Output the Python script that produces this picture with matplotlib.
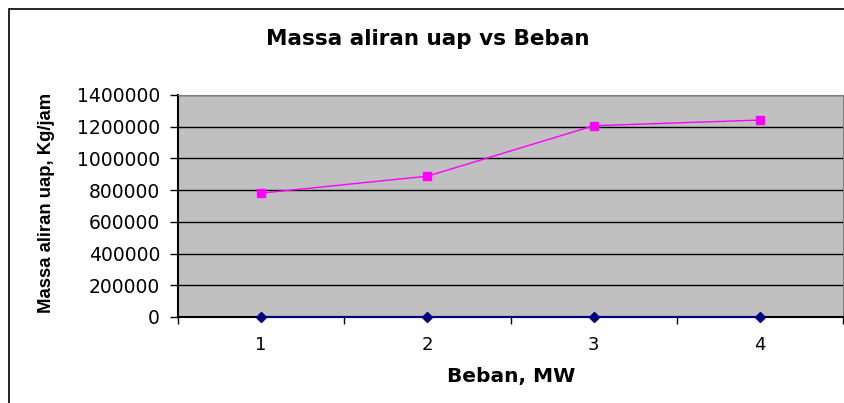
import matplotlib.pyplot as plt
from matplotlib.patches import Rectangle

plt.rcParams['font.family'] = ['DejaVu Sans']

# data
beban = [1, 2, 3, 4]
massa_uap = [781000, 888000, 1206000, 1242000]
seri_nol = [0, 0, 0, 0]
y_ticks = [0, 200000, 400000, 600000, 800000, 1000000, 1200000, 1400000]

fig = plt.figure(figsize=(8.45, 4.03), dpi=100)
ax = fig.add_axes([178 / 845, 1 - 317 / 403, (843 - 178) / 845, (317 - 95) / 403])
ax.set_facecolor('#c0c0c0')

# grid lines
for v in y_ticks[1:]:
    ax.axhline(v, color='black', lw=1.0, zorder=1)

ax.plot(beban, massa_uap, color='#ff00ff', lw=1.0, marker='s', ms=6,
        markerfacecolor='#ff00ff', markeredgecolor='#ff00ff', zorder=3, clip_on=False)
ax.plot(beban, seri_nol, color='#000080', lw=1.5, marker='D', ms=5,
        markerfacecolor='#000080', markeredgecolor='#000080', zorder=4, clip_on=False)

ax.set_xlim(0.5, 4.5)
ax.set_ylim(0, 1400000)
ax.set_yticks(y_ticks)
ax.set_yticklabels([str(v) for v in y_ticks], fontsize=13.5)

# category labels without ticks; tick marks between categories
ax.set_xticks([0.5, 1.5, 2.5, 3.5, 4.5])
ax.set_xticklabels([])
ax.set_xticks(beban, minor=True)
ax.set_xticklabels([str(b) for b in beban], minor=True, fontsize=13)
ax.tick_params(axis='x', which='minor', length=0, pad=14)
ax.tick_params(axis='x', which='major', direction='out', length=5, width=1)
ax.tick_params(axis='y', direction='out', length=6, width=1, pad=7)

ax.spines['left'].set_linewidth(1.5)
ax.spines['bottom'].set_linewidth(1.5)
ax.spines['top'].set_color('#808080')
ax.spines['right'].set_color('#808080')

fig.text(428 / 845, 1 - 45 / 403, 'Massa aliran uap vs Beban', ha='center', va='baseline',
         fontsize=15.5, fontweight='bold')
fig.text(511 / 845, 1 - 382 / 403, 'Beban, MW', ha='center', va='baseline',
         fontsize=14.5, fontweight='bold')
fig.text(47 / 845, 1 - 203 / 403, 'Massa aliran uap, Kg/jam', ha='center', va='center',
         fontsize=13.3, fontweight='bold', rotation=90, family='Liberation Sans')

# chart border
fig.patches.append(Rectangle((9 / 845, -0.5), 3, 1 - 9 / 403 + 0.5, transform=fig.transFigure,
                             fill=False, edgecolor='black', lw=1.2))

fig.savefig('out.png', dpi=100)
